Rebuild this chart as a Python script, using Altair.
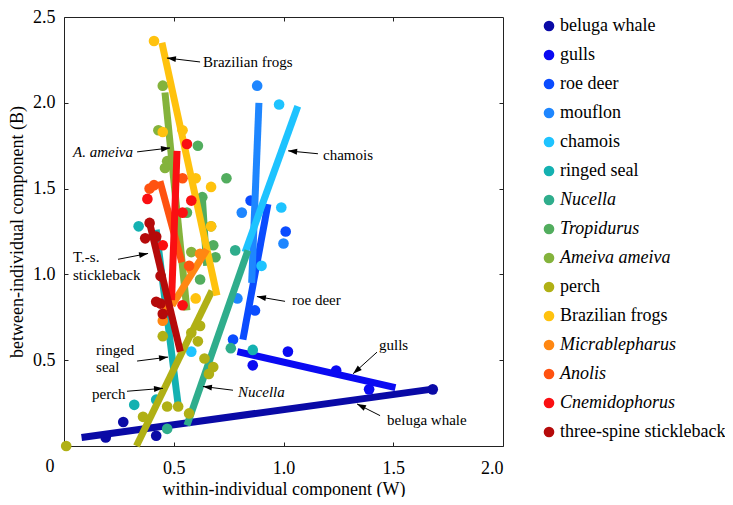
import math
import altair as alt
import pandas as pd

# ---------------- data ----------------
SPECIES = ["beluga whale", "gulls", "roe deer", "mouflon", "chamois", "ringed seal",
           "Nucella", "Tropidurus", "Ameiva ameiva", "perch", "Brazilian frogs",
           "Micrablepharus", "Anolis", "Cnemidophorus", "three-spine stickleback"]
COLORS = ["#0a0aa6", "#0a0af2", "#0a4cff", "#1e86ff", "#1ec3ff", "#14b1b1",
          "#2fad8c", "#52ad5e", "#84b33c", "#b0b015", "#ffc20e",
          "#ff8712", "#ff5210", "#fa0f12", "#b50a0a"]
ITALIC = ["Nucella", "Tropidurus", "Ameiva ameiva", "Micrablepharus", "Anolis", "Cnemidophorus"]

BELUGA_W = [0.19, 0.27, 0.42, 1.68]
BELUGA_B = [0.05, 0.14, 0.06, 0.33]
GULLS_W = [0.86, 1.02, 1.24, 1.39]
GULLS_B = [0.47, 0.55, 0.44, 0.33]
ROE_W = [0.85, 1.01, 0.87, 0.77]
ROE_B = [1.43, 1.25, 0.79, 0.62]
MOUFLON_W = [0.88, 0.81, 1.00, 0.79]
MOUFLON_B = [2.10, 1.36, 1.18, 0.86]
CHAMOIS_W = [0.98, 0.99, 0.90, 0.58]
CHAMOIS_B = [1.99, 1.39, 1.05, 0.55]
SEAL_W = [0.34, 0.32, 0.42, 0.86]
SEAL_B = [1.28, 0.24, 0.27, 0.56]
NUCELLA_W = [0.47, 0.76, 0.78]
NUCELLA_B = [0.10, 0.57, 1.14]
TROPIDURUS_W = [0.61, 0.74, 0.63, 0.56, 0.68, 0.62, 0.69]
TROPIDURUS_B = [1.75, 1.56, 1.45, 1.36, 1.17, 0.97, 1.10]
AMEIVA_W = [0.45, 0.43, 0.47, 0.46, 0.58, 0.51, 0.67]
AMEIVA_B = [2.10, 1.84, 1.66, 1.62, 1.13, 1.15, 1.28]
PERCH_W = [0.01, 0.36, 0.47, 0.52, 0.57, 0.64, 0.68, 0.66, 0.45, 0.58, 0.62, 0.61]
PERCH_B = [0.00, 0.17, 0.23, 0.23, 0.19, 0.51, 0.46, 0.42, 0.64, 0.66, 0.70, 0.61]
FROGS_W = [0.41, 0.45, 0.54, 0.60, 0.67, 0.67, 0.60]
FROGS_B = [2.36, 1.83, 1.84, 1.56, 1.51, 1.28, 0.86]
MICRA_W = [0.45, 0.47, 0.62, 0.58]
MICRA_B = [0.73, 0.80, 1.12, 1.03]
ANOLIS_W = [0.39, 0.41, 0.54, 0.57]
ANOLIS_B = [1.50, 1.52, 1.56, 1.05]
CNEMI_W = [0.56, 0.38, 0.58, 0.54, 0.45, 0.54]
CNEMI_B = [1.76, 1.44, 1.43, 1.36, 1.17, 0.82]
STICKLE_W = [0.39, 0.37, 0.42, 0.44, 0.45, 0.42, 0.44]
STICKLE_B = [1.30, 1.21, 1.22, 0.83, 0.77, 0.84, 0.99]

POINTS_W = [BELUGA_W, GULLS_W, ROE_W, MOUFLON_W, CHAMOIS_W, SEAL_W, NUCELLA_W,
            TROPIDURUS_W, AMEIVA_W, PERCH_W, FROGS_W, MICRA_W, ANOLIS_W, CNEMI_W, STICKLE_W]
POINTS_B = [BELUGA_B, GULLS_B, ROE_B, MOUFLON_B, CHAMOIS_B, SEAL_B, NUCELLA_B,
            TROPIDURUS_B, AMEIVA_B, PERCH_B, FROGS_B, MICRA_B, ANOLIS_B, CNEMI_B, STICKLE_B]

# fitted lines (start / end) per species, same order as SPECIES
LINE_W1 = [0.08, 0.79, 0.929, 0.888, 1.065, 0.42, 0.56, 0.63, 0.46, 0.33, 0.446, 0.651, 0.437, 0.515, 0.39]
LINE_B1 = [0.05, 0.55, 1.41, 2.00, 1.98, 1.26, 0.12, 1.45, 2.06, 0.00, 2.35, 1.145, 1.543, 1.72, 1.30]
LINE_W2 = [1.67, 1.51, 0.815, 0.855, 0.825, 0.52, 0.838, 0.65, 0.56, 0.674, 0.697, 0.492, 0.537, 0.49, 0.53]
LINE_B2 = [0.33, 0.34, 0.62, 0.95, 1.13, 0.24, 1.14, 1.05, 0.79, 0.905, 0.877, 0.82, 1.07, 0.85, 0.55]

# annotations
ANN_TEXT = ["Brazilian frogs", "chamois", "T.-s.", "stickleback", "roe deer",
            "ringed", "seal", "perch", "gulls", "beluga whale"]
ANN_W = [0.633, 1.180, 0.041, 0.041, 1.039, 0.146, 0.146, 0.128, 1.435, 1.472]
ANN_B = [2.238, 1.697, 1.099, 0.997, 0.849, 0.558, 0.461, 0.302, 0.587, 0.154]
ANN_IT_TEXT = ["A. ameiva", "Nucella"]
ANN_IT_W = [0.041, 0.793]
ANN_IT_B = [1.714, 0.313]

ARROW_W1 = [0.620, 0.333, 1.157, 0.246, 1.007, 0.333, 0.287, 0.770, 1.426, 1.440]
ARROW_B1 = [2.238, 1.714, 1.703, 1.088, 0.843, 0.495, 0.319, 0.325, 0.547, 0.177]
ARROW_W2 = [0.469, 0.483, 1.021, 0.383, 0.879, 0.474, 0.451, 0.633, 1.317, 1.335]
ARROW_B2 = [2.261, 1.737, 1.720, 1.122, 0.871, 0.518, 0.336, 0.347, 0.421, 0.245]

X_TICKS = [0.5, 1.0, 1.5, 2.0]
Y_TICKS = [0.5, 1.0, 1.5, 2.0, 2.5]
ORIGIN_LABEL = "0"

# ---------------- chart ----------------
PW, PH = 439, 429
XMAX, YMAX = 2.0, 2.5
FONT = "Liberation Serif, Times New Roman, Times, Nimbus Roman, DejaVu Serif, serif"

xscale = alt.Scale(domain=[0, XMAX], nice=False, zero=False)
yscale = alt.Scale(domain=[0, YMAX], nice=False, zero=False)

x_axis = alt.Axis(orient="bottom", values=X_TICKS, format=".1f", title="within-individual component (W)",
                  domain=False, offset=-4, tickSize=4, labelPadding=13, titlePadding=3, grid=False)
y_axis = alt.Axis(orient="left", values=Y_TICKS, format=".1f", title="between-individual component (B)",
                  domain=False, offset=-4, tickSize=4, labelPadding=9, titlePadding=6, grid=False)
x_top = alt.Axis(orient="top", values=X_TICKS[:-1], labels=False, title=None, domain=False,
                 offset=-4, tickSize=4, grid=False)
y_right = alt.Axis(orient="right", values=Y_TICKS[:-1], labels=False, title=None, domain=False,
                   offset=-4, tickSize=4, grid=False)

italic_list = "[" + ",".join("'" + s + "'" for s in ITALIC) + "]"
legend = alt.Legend(
    title=None, orient="right", offset=36, padding=0, symbolType="circle", symbolSize=113,
    symbolStrokeWidth=0, symbolOpacity=1, labelFont=FONT, labelFontSize=18, labelColor="black",
    labelOffset=2, rowPadding=11, labelLimit=300,
    labelFontStyle={"expr": "indexof(" + italic_list + ", datum.label) >= 0 ? 'italic' : 'normal'"},
)
color_scale = alt.Scale(domain=SPECIES, range=COLORS)

layers = []
for i, sp in enumerate(SPECIES):
    pdf = pd.DataFrame({"W": POINTS_W[i], "B": POINTS_B[i], "species": sp})
    first = (i == 0)
    pts = alt.Chart(pdf).mark_circle(size=113, opacity=1).encode(
        x=alt.X("W:Q", scale=xscale, axis=x_axis if first else None),
        y=alt.Y("B:Q", scale=yscale, axis=y_axis if first else None),
        color=alt.Color("species:N", scale=color_scale, legend=legend),
    )
    ldf = pd.DataFrame({"W": [LINE_W1[i], LINE_W2[i]], "B": [LINE_B1[i], LINE_B2[i]]})
    ln = alt.Chart(ldf).mark_line(color=COLORS[i], strokeWidth=7, strokeCap="butt").encode(
        x=alt.X("W:Q", scale=xscale, axis=None),
        y=alt.Y("B:Q", scale=yscale, axis=None),
    )
    layers += [pts, ln]

# mirrored inner ticks on top and right
mirror = alt.Chart(pd.DataFrame({"W": [0.0], "B": [0.0]})).mark_point(opacity=0).encode(
    x=alt.X("W:Q", scale=xscale, axis=x_top),
    y=alt.Y("B:Q", scale=yscale, axis=y_right),
)

ann = alt.Chart(pd.DataFrame({"W": ANN_W, "B": ANN_B, "t": ANN_TEXT})).mark_text(
    font=FONT, fontSize=15, align="left", baseline="middle", color="black"
).encode(x=alt.X("W:Q", scale=xscale, axis=None), y=alt.Y("B:Q", scale=yscale, axis=None), text="t:N")

ann_it = alt.Chart(pd.DataFrame({"W": ANN_IT_W, "B": ANN_IT_B, "t": ANN_IT_TEXT})).mark_text(
    font=FONT, fontSize=15, fontStyle="italic", align="left", baseline="middle", color="black"
).encode(x=alt.X("W:Q", scale=xscale, axis=None), y=alt.Y("B:Q", scale=yscale, axis=None), text="t:N")

sx, sy = PW / XMAX, PH / YMAX
angles = []
for w1, b1, w2, b2 in zip(ARROW_W1, ARROW_B1, ARROW_W2, ARROW_B2):
    dxp = (w2 - w1) * sx
    dyp = -(b2 - b1) * sy
    angles.append(math.degrees(math.atan2(dxp, -dyp)) % 360)
adf = pd.DataFrame({"W1": ARROW_W1, "B1": ARROW_B1, "W2": ARROW_W2, "B2": ARROW_B2, "ang": angles})

arrow_lines = alt.Chart(adf).mark_rule(color="black", strokeWidth=1).encode(
    x=alt.X("W1:Q", scale=xscale, axis=None), y=alt.Y("B1:Q", scale=yscale, axis=None),
    x2="W2:Q", y2="B2:Q",
)
arrow_heads = alt.Chart(adf).mark_point(
    shape="M0,0L0.33,1L-0.33,1Z", filled=True, size=324, color="black", opacity=1, strokeWidth=0
).encode(
    x=alt.X("W2:Q", scale=xscale, axis=None), y=alt.Y("B2:Q", scale=yscale, axis=None),
    angle=alt.Angle("ang:Q", scale=None),
)

origin = alt.Chart(pd.DataFrame({"W": [0.0], "B": [0.0], "t": [ORIGIN_LABEL]})).mark_text(
    font=FONT, fontSize=18, align="center", baseline="middle", dx=-14, dy=21, color="black"
).encode(x=alt.X("W:Q", scale=xscale, axis=None), y=alt.Y("B:Q", scale=yscale, axis=None), text="t:N")

chart = alt.layer(*layers, mirror, arrow_lines, arrow_heads, ann, ann_it, origin).properties(
    width=PW, height=PH,
    autosize=alt.AutoSizeParams(type="none"),
    padding={"left": 56, "top": 9, "right": 222, "bottom": 51},
).configure_view(stroke="#222222", strokeWidth=1).configure_axis(
    labelFont=FONT, labelFontSize=18, labelColor="black", titleFont=FONT, titleFontSize=18,
    titleFontWeight="normal", titleColor="black", tickColor="#222222", tickWidth=1,
)

chart.save("out.html", embed_options={"renderer": "svg", "actions": False})
